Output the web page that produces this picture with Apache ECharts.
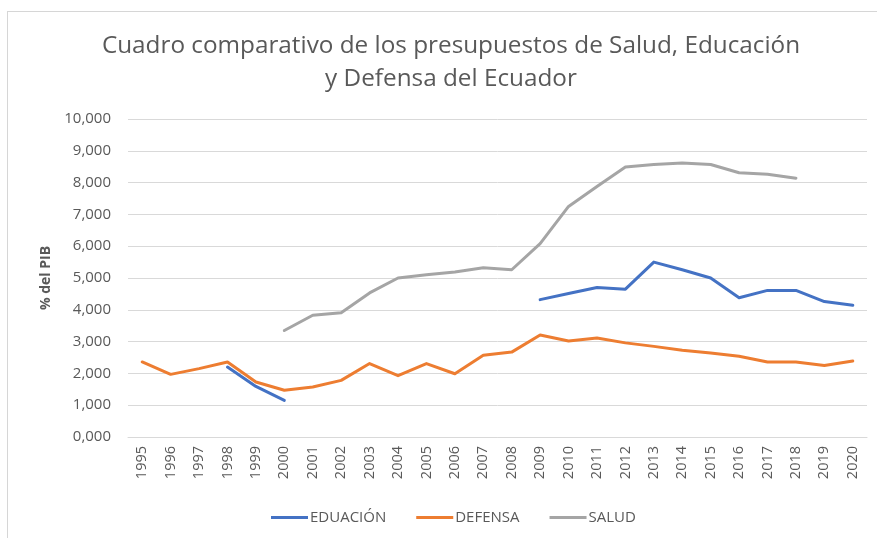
<!DOCTYPE html>
<html>
<head>
<meta charset="utf-8">
<script src="https://cdn.jsdelivr.net/npm/echarts@6/dist/echarts.min.js"></script>
<style>
  html, body { margin: 0; padding: 0; background: #fff; }
  #frame {
    position: absolute; left: 7px; top: 11px; right: -5px; bottom: -5px;
    border-top: 1px solid #d6d6d6; border-left: 1px solid #d6d6d6;
  }
  #chart { position: absolute; left: 0; top: 0; width: 877px; height: 538px; }
</style>
</head>
<body>
<div id="frame"></div>
<div id="chart"></div>
<script>
const years = ['1995', '1996', '1997', '1998', '1999', '2000', '2001', '2002', '2003', '2004', '2005', '2006', '2007',
  '2008', '2009', '2010', '2011', '2012', '2013', '2014', '2015', '2016', '2017', '2018', '2019', '2020']

const educacion = [null, null, null, 2.20, 1.59, 1.15, null, null, null, null, null, null, null,
  null, 4.32, 4.51, 4.70, 4.65, 5.50, 5.26, 5.00, 4.38, 4.61, 4.61, 4.26, 4.14]

const defensa = [2.36, 1.97, 2.15, 2.36, 1.73, 1.47, 1.57, 1.78, 2.31, 1.93, 2.31, 1.99, 2.57,
  2.67, 3.21, 3.02, 3.11, 2.96, 2.85, 2.73, 2.64, 2.54, 2.36, 2.36, 2.25, 2.39]

const salud = [null, null, null, null, null, 3.35, 3.83, 3.91, 4.53, 5.00, 5.10, 5.19, 5.32,
  5.26, 6.08, 7.25, 7.88, 8.49, 8.57, 8.62, 8.57, 8.31, 8.26, 8.14, null, null]

const yTickLabels = ['0,000', '1,000', '2,000', '3,000', '4,000', '5,000', '6,000', '7,000', '8,000', '9,000', '10,000']

const textColor = '#595959'
const font = '"Open Sans", sans-serif'

const chart = echarts.init(document.getElementById('chart'))

const makeSeries = (name, data, color) => ({
  name,
  type: 'line',
  data,
  symbol: 'none',
  connectNulls: false,
  lineStyle: { width: 3, color, cap: 'round', join: 'round' },
  itemStyle: { color }
})

chart.setOption({
  animation: false,
  title: {
    text: 'Cuadro comparativo de los presupuestos de Salud, Educación\ny Defensa del Ecuador',
    left: 446,
    textAlign: 'center',
    top: 25,
    textStyle: {
      fontFamily: font,
      fontSize: 24.3,
      fontWeight: 'normal',
      lineHeight: 33,
      color: textColor
    }
  },
  legend: {
    data: ['EDUACIÓN', 'DEFENSA', 'SALUD'],
    left: 266,
    top: 505,
    icon: 'rect',
    itemWidth: 37,
    itemHeight: 3,
    itemGap: 30,
    textStyle: { fontFamily: font, fontSize: 15, color: textColor, padding: [0, 0, 0, -3] }
  },
  grid: { left: 128, right: 10, top: 119, bottom: 101, containLabel: false },
  xAxis: {
    type: 'category',
    data: years,
    boundaryGap: true,
    axisLine: { lineStyle: { color: '#d9d9d9' } },
    axisTick: { show: false },
    axisLabel: {
      rotate: 90,
      margin: 9,
      fontFamily: font,
      fontSize: 14.5,
      color: textColor
    }
  },
  yAxis: {
    type: 'value',
    min: 0,
    max: 10,
    interval: 1,
    name: '% del PIB',
    nameLocation: 'middle',
    nameGap: 75,
    nameRotate: 90,
    nameTextStyle: { fontFamily: font, fontSize: 14, fontWeight: 'bold', color: textColor },
    axisLine: { show: false },
    axisTick: { show: false },
    axisLabel: {
      margin: 17,
      fontFamily: font,
      fontSize: 15,
      color: textColor,
      formatter: v => yTickLabels[Math.round(v)]
    },
    splitLine: { lineStyle: { color: '#d9d9d9', width: 1 } }
  },
  series: [
    makeSeries('EDUACIÓN', educacion, '#4472C4'),
    makeSeries('DEFENSA', defensa, '#ED7D31'),
    makeSeries('SALUD', salud, '#A5A5A5')
  ]
})
</script>
</body>
</html>
